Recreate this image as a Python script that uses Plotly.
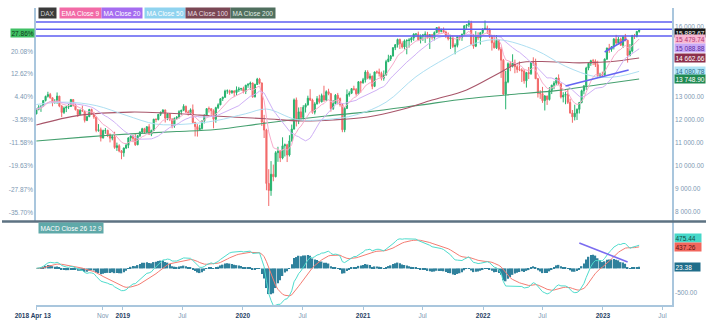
import pandas as pd
import plotly.graph_objects as go

# ---------------- data (weekly DAX candles) ----------------
week_start = "2018-04-13"
first_open = 12241
closes = [
    12442, 12540, 12580, 12820, 13001, 13077, 12938, 12724, 12767, 13011, 12580, 12306, 12496, 12540, 12561, 12860,
    12616, 12424, 12211, 12394, 12364, 11960, 12124, 12431, 12247, 12111, 11524, 11554, 11201, 11519, 11529, 11341,
    11192, 11257, 10788, 10866, 10634, 10559,
    10767, 10887, 11205, 11282, 11181, 10907, 11300, 11457, 11602, 11458, 11686, 11364, 11526, 12010, 11999, 12222,
    12315, 12412, 12060, 12238, 12011, 11727, 12045, 12096, 12340, 12399, 12569, 12323, 12260, 12419, 11872, 11694,
    11563, 11612, 11939, 12192, 12469, 12468, 12381, 12013, 12512, 12634, 12895, 12961, 13229, 13242, 13164, 13236,
    13167, 13283, 13319, 13337,
    13219, 13483, 13526, 13577, 12982, 13514, 13745, 13579, 11890, 11542, 9232, 8929, 9633, 9525, 10565, 10626,
    10336, 10861, 10905, 10465, 11074, 11587, 12848, 11949, 12331, 12089, 12528, 12633, 12920, 12838, 12313, 12675,
    12901, 12765, 13033, 12842, 13203, 13116, 12469, 12689, 13051, 12909, 12646, 11556, 12480, 13077, 13137, 13335,
    13298, 13114, 13631, 13587, 13719,
    14050, 13788, 13873, 13433, 14056, 14050, 13993, 13786, 13920, 14502, 14621, 14749, 15107, 15234, 15460, 15280,
    15136, 15400, 15417, 15438, 15520, 15693, 15693, 15448, 15608, 15650, 15688, 15540, 15669, 15544, 15761, 15977,
    15808, 15852, 15781, 15610, 15490, 15532, 15156, 15206, 15587, 15543, 15689, 16054, 16094, 16160, 15257, 15170,
    15623, 15532, 15756, 15885,
    15948, 15883, 15603, 15318, 15100, 15425, 15042, 14567, 13094, 13628, 14413, 14306, 14446, 14284, 14164, 14142,
    14098, 13674, 14028, 13982, 14462, 14460, 13762, 13126, 13118, 12813, 13016, 12864, 13254, 13484, 13573, 13795,
    13544, 12972, 13050, 13088, 12741, 12284, 12114, 12273, 12438, 12731, 13243, 13460, 14224, 14431, 14541, 14529,
    14370, 13894, 13941, 13924,
    14610, 15087, 15033, 15150, 15476, 15308, 15482, 15210, 15578, 15428, 14768, 14957, 15629, 15598, 15808, 15882.67,
]
highs = [
    12470, 12620, 12600, 12840, 13030, 13200, 13150, 12950, 12880, 13170, 13020, 12620, 12560, 12590, 12670, 12890,
    12880, 12680, 12440, 12450, 12600, 12380, 12170, 12460, 12470, 12330, 12120, 11800, 11650, 11560, 11630, 11560,
    11400, 11340, 11470, 11000, 10930, 10680,
    10790, 10980, 11230, 11320, 11330, 11370, 11320, 11490, 11640, 11640, 11710, 11800, 11560, 12030, 12050, 12240,
    12340, 12440, 12430, 12270, 12270, 12060, 12090, 12150, 12400, 12420, 12660, 12600, 12400, 12480, 12650, 11900,
    11800, 11770, 11960, 12220, 12490, 12560, 12480, 12440, 12550, 12700, 12920, 12990, 13290, 13300, 13290, 13270,
    13260, 13430, 13410, 13370,
    13420, 13500, 13560, 13640, 13600, 13550, 13800, 13800, 13600, 12200, 11600, 9850, 10200, 10050, 10630, 10820,
    10680, 11230, 10960, 10950, 11320, 11780, 12910, 12950, 12520, 12540, 12620, 12700, 13030, 13310, 12900, 12750,
    13010, 13070, 13120, 13460, 13260, 13330, 13150, 12840, 13100, 13150, 12950, 12700, 12540, 13300, 13220, 13350,
    13460, 13360, 13660, 13670, 13800,
    14130, 14130, 13990, 13900, 14070, 14120, 14200, 14070, 14120, 14580, 14800, 14790, 15120, 15260, 15500, 15500,
    15380, 15460, 15470, 15520, 15570, 15730, 15730, 15800, 15680, 15700, 15810, 15790, 15680, 15690, 15810, 15980,
    16030, 15930, 15980, 15840, 15760, 15660, 15640, 15290, 15620, 15650, 15710, 16070, 16110, 16290, 16270, 15700,
    15820, 15770, 15790, 15950,
    16280, 16060, 15950, 15660, 15660, 15650, 15450, 15140, 14620, 14100, 14470, 14520, 14820, 14590, 14350, 14510,
    14220, 14190, 14060, 14270, 14470, 14690, 14630, 13800, 13270, 13410, 13060, 13030, 13400, 13500, 13660, 13810,
    13950, 13560, 13180, 13200, 13320, 12900, 12410, 12640, 12480, 12760, 13290, 13470, 14280, 14450, 14580, 14620,
    14600, 14540, 14020, 14070,
    14640, 15110, 15270, 15170, 15520, 15660, 15570, 15540, 15590, 15700, 15450, 15260, 15660, 15700, 15830, 15920,
]
lows = [
    12230, 12400, 12330, 12560, 12780, 12950, 12900, 12570, 12690, 12680, 12530, 12100, 12240, 12320, 12450, 12540,
    12560, 12390, 12110, 12190, 12340, 11870, 11930, 12100, 12200, 12030, 11450, 11470, 11050, 11180, 11380, 11240,
    11010, 11100, 10730, 10640, 10580, 10280,
    10390, 10720, 10760, 11060, 11020, 10860, 10890, 11240, 11410, 11380, 11420, 11340, 11280, 11500, 11880, 11960,
    12150, 12260, 11870, 11970, 11930, 11620, 11640, 11990, 12040, 12210, 12360, 12280, 12170, 12200, 11830, 11270,
    11260, 11520, 11560, 11830, 12140, 12300, 12200, 11620, 11860, 12450, 12620, 12800, 12940, 13110, 13070, 13110,
    12970, 13050, 13190, 13240,
    13130, 13100, 13370, 13280, 12940, 12950, 13490, 13520, 11720, 11200, 8940, 8260, 8700, 9330, 9500, 10170,
    10160, 10280, 10400, 10160, 10400, 11050, 11560, 11700, 11800, 11960, 12000, 12300, 12600, 12800, 12250, 12220,
    12650, 12690, 12740, 12760, 12800, 13050, 12340, 12410, 12660, 12650, 12560, 11450, 11450, 12450, 12990, 13100,
    13250, 13030, 13080, 13160, 13550,
    13600, 13740, 13720, 13310, 13400, 13970, 13860, 13690, 13680, 13900, 14480, 14530, 14720, 15000, 15110, 15050,
    15070, 15030, 14820, 15110, 15330, 15400, 15560, 15430, 15290, 15400, 15310, 15500, 15050, 15450, 15420, 15730,
    15700, 15770, 15740, 15520, 15420, 15050, 15090, 14820, 15120, 15420, 15400, 15650, 15920, 15990, 15230, 15060,
    15130, 15430, 15240, 15700,
    15870, 15700, 15530, 14980, 15070, 15050, 14980, 13800, 13060, 12440, 13570, 14090, 14250, 14000, 14020, 14090,
    13620, 13550, 13380, 13750, 13930, 14320, 13750, 12950, 12890, 12720, 12390, 12630, 12820, 13100, 13310, 13490,
    13500, 12910, 12740, 12660, 12670, 12250, 11860, 11960, 11980, 12260, 12700, 13090, 13280, 14130, 14320, 14350,
    14270, 13800, 13790, 13880,
    13900, 14580, 14880, 14930, 15030, 15250, 15240, 15180, 15090, 15380, 14460, 14730, 14900, 15480, 15550, 15750,
]

# slower moving averages at a few dates
ma50_dates = ["2018-04-13", "2018-07-13", "2018-10-12", "2019-01-11", "2019-04-12", "2019-07-12", "2019-10-11",
              "2020-01-10", "2020-03-13", "2020-06-12", "2020-09-11", "2020-12-11", "2021-03-12", "2021-06-11",
              "2021-09-10", "2021-12-10", "2022-02-18", "2022-06-10", "2022-09-09", "2022-12-09", "2023-02-10",
              "2023-04-21"]
ma50_vals = [12650, 12750, 12600, 12180, 11800, 11800, 11950, 12250, 12450, 12000, 12000, 12200, 12750, 13850,
             14650, 15300, 15450, 15000, 14300, 13850, 13850, 14080.78]
ma100_dates = ["2018-04-13", "2018-08-24", "2019-01-25", "2019-05-10", "2019-08-23", "2019-12-13", "2020-03-13",
               "2020-06-26", "2020-10-02", "2021-01-15", "2021-04-23", "2021-07-30", "2021-11-12", "2022-02-18",
               "2022-04-22", "2022-07-22", "2022-10-21", "2023-01-20", "2023-04-21"]
ma100_vals = [11760, 12190, 12320, 12280, 12190, 12100, 12030, 11940, 11980, 12110, 12410, 12840, 13280, 14000,
              14450, 14500, 14450, 14500, 14662.66]
ma200_dates = ["2018-04-13", "2018-09-14", "2019-01-25", "2019-06-14", "2019-10-11", "2020-03-13", "2020-09-11",
               "2021-01-15", "2021-06-11", "2021-11-12", "2022-03-11", "2022-08-12", "2023-01-13", "2023-04-21"]
ma200_vals = [11070, 11250, 11380, 11480, 11570, 11850, 12150, 12330, 12600, 12900, 13060, 13250, 13560, 13748.90]

# drawings
level_lines = [16216, 15900, 15611]
trend1_dates = ["2022-09-09", "2023-03-20"]
trend1_vals = [13449, 14141]
trend2_dates = ["2023-01-06", "2023-03-14"]
trend2_vals = [14919, 15481]
macd_trend_dates = ["2022-10-21", "2023-03-17"]
macd_trend_vals = [516, 130]

# axes labels
price_ticks = [8000, 9000, 10000, 11000, 12000, 13000, 16000]
pct_ticks = [20.08, 12.62, 4.40, -3.58, -11.58, -19.63, -27.87, -35.70]
pct_base = 12420
last_pct = "27.86%"
x_tick_dates = ["2018-04-13", "2018-11-01", "2019-01-01", "2019-07-01", "2020-01-01", "2020-07-01",
                "2021-01-01", "2021-07-01", "2022-01-01", "2022-07-01", "2023-01-01", "2023-07-01"]
x_tick_names = ["2018 Apr 13", "Nov", "2019", "Jul", "2020", "Jul", "2021", "Jul", "2022", "Jul", "2023", "Jul"]

price_badge_vals = [15882.67, 15479.74, 15088.88, 14662.66, 14080.78, 13748.90]
price_badge_bg = ["#161616", "#f7b8d3", "#c9a9f6", "#8c2f4c", "#aee3f6", "#1f8a52"]
price_badge_fg = ["#ffffff", "#b03070", "#5a2aa0", "#ffffff", "#2a6f8a", "#ffffff"]
price_badge_shift = [-3, 0, 0, 0, 0, 0]
macd_badge_vals = [475.44, 437.26, 23.38]
macd_badge_bg = ["#46d8c9", "#f2665d", "#1f6d8a"]
macd_badge_fg = ["#134a46", "#5a1410", "#ffffff"]
macd_badge_shift = [7, 0, 0]

legend_names = ["DAX", "EMA Close 9", "MA Close 20", "MA Close 50", "MA Close 100", "MA Close 200"]
legend_bg = ["#3a3a3a", "#f26aa6", "#a56cf0", "#8fd3ef", "#7a4754", "#4f6f5e"]
legend_fg = ["#d0d0d0", "#ffffff", "#ffffff", "#ffffff", "#e8dde0", "#e0ece4"]
legend_px = [38, 59, 101, 144, 185, 230]

assert len(closes) == len(highs) == len(lows)

# ---------------- derived series ----------------
dates = pd.date_range(week_start, periods=len(closes), freq="W-FRI")
opens = [first_open] + closes[:-1]
cs = pd.Series(closes, dtype=float)
ema9 = cs.ewm(span=9, adjust=False).mean()
ma20 = cs.rolling(20, min_periods=1).mean()
macd = cs.ewm(span=12, adjust=False).mean() - cs.ewm(span=26, adjust=False).mean()
signal = macd.ewm(span=9, adjust=False).mean()
hist = macd - signal

# ---------------- pixel geometry ----------------
W, H = 715, 332
L, R, T, B = 36, 672, 8, 305
def px_x(px):
    return (px - L) / (R - L)
def px_y(py):
    return (B - py) / (B - T)

k_price = (212 - 27) / 8000.0
price_range = [8000 - (221 - 212) / k_price, 16000 + (27 - T) / k_price]
k_macd = (293 - 245) / 975.0
macd_zero = 245 + 475 * k_macd
macd_range = [-(B - macd_zero) / k_macd, (macd_zero - 222) / k_macd]

FONT = "Liberation Sans, Arial, sans-serif"
AXIS = "#a9c6dd"
LAB = "#7d98b3"

fig = go.Figure()

fig.add_trace(go.Scatter(x=ma200_dates, y=ma200_vals, mode="lines", line=dict(color="#45a06f", width=1.1, shape="spline"), yaxis="y"))
fig.add_trace(go.Scatter(x=ma100_dates, y=ma100_vals, mode="lines", line=dict(color="#a8566a", width=1.1, shape="spline"), yaxis="y"))
fig.add_trace(go.Scatter(x=ma50_dates, y=ma50_vals, mode="lines", line=dict(color="#addff2", width=1, shape="spline"), yaxis="y"))
fig.add_trace(go.Scatter(x=dates, y=ma20, mode="lines", line=dict(color="#cfb0f6", width=1), yaxis="y"))
fig.add_trace(go.Scatter(x=dates, y=ema9, mode="lines", line=dict(color="#f7abcb", width=1), yaxis="y"))

fig.add_trace(go.Candlestick(
    x=dates, open=opens, high=highs, low=lows, close=closes, yaxis="y",
    increasing=dict(line=dict(color="#27b36e", width=1), fillcolor="#27b36e"),
    decreasing=dict(line=dict(color="#f26a6a", width=1), fillcolor="#f26a6a"),
    whiskerwidth=0, hoverinfo="skip"))

for d, v in [(trend1_dates, trend1_vals), (trend2_dates, trend2_vals)]:
    fig.add_trace(go.Scatter(x=d, y=v, mode="lines", line=dict(color="#6464f2", width=1.6), yaxis="y"))

# dummy for left percent axis
fig.add_trace(go.Scatter(x=[dates[0]], y=[None], yaxis="y2", mode="markers", hoverinfo="skip"))

# MACD pane
fig.add_trace(go.Bar(x=dates, y=hist, yaxis="y3", marker=dict(color="#2f819c", line=dict(width=0))))
fig.add_trace(go.Scatter(x=dates, y=signal, mode="lines", line=dict(color="#f47c72", width=1), yaxis="y3"))
fig.add_trace(go.Scatter(x=dates, y=macd, mode="lines", line=dict(color="#4fdccd", width=1), yaxis="y3"))
fig.add_trace(go.Scatter(x=macd_trend_dates, y=macd_trend_vals, mode="lines", line=dict(color="#7b6cf0", width=1.6), yaxis="y3"))

shapes = []
for v in level_lines:
    shapes.append(dict(type="line", xref="paper", yref="y", x0=0, x1=1, y0=v, y1=v,
                       line=dict(color="#5e5ef2", width=1.6)))
shapes.append(dict(type="line", xref="paper", yref="paper", x0=px_x(2), x1=px_x(706),
                   y0=px_y(221.5), y1=px_y(221.5), line=dict(color="#5d7282", width=2.5)))

ann = []
for name, bg, fg, px in zip(legend_names, legend_bg, legend_fg, legend_px):
    ann.append(dict(text=name, xref="paper", yref="paper", x=px_x(px), y=px_y(13), xanchor="left",
                    yanchor="middle", showarrow=False, bgcolor=bg, borderpad=1.5,
                    font=dict(family=FONT, size=6.5, color=fg)))
ann.append(dict(text="MACD Close 26 12 9", xref="paper", yref="paper", x=px_x(38), y=px_y(228),
                xanchor="left", yanchor="middle", showarrow=False, bgcolor="#5fa9a9", borderpad=1.5,
                font=dict(family=FONT, size=6.5, color="#ffffff")))
for v, bg, fg, sh in zip(price_badge_vals, price_badge_bg, price_badge_fg, price_badge_shift):
    ann.append(dict(text=f"{v:,.2f}".replace(",", " "), xref="paper", yref="y", x=1, y=v, xshift=2,
                    yshift=sh, xanchor="left", yanchor="middle", showarrow=False, bgcolor=bg, borderpad=0.5,
                    font=dict(family=FONT, size=6.5, color=fg)))
ann.append(dict(text=last_pct, xref="paper", yref="y", x=0, y=price_badge_vals[0], xshift=-1, yshift=-3,
                xanchor="right", yanchor="middle", showarrow=False, bgcolor="#3fc064", borderpad=0.5,
                font=dict(family=FONT, size=6.5, color="#10381a")))
for v, bg, fg, sh in zip(macd_badge_vals, macd_badge_bg, macd_badge_fg, macd_badge_shift):
    ann.append(dict(text=f"{v:.2f}".ljust(9), xref="paper", yref="y3", x=1, y=v, xshift=2, yshift=sh,
                    xanchor="left", yanchor="middle", showarrow=False, bgcolor=bg, borderpad=0.5,
                    font=dict(family=FONT, size=6.5, color=fg)))

def xlab(name):
    if name[0].isdigit():
        return f"<b><span style='color:#1f3e63'>{name}</span></b>"
    return f"<span style='color:{LAB}'>{name}</span>"
x_tick_text = [xlab(n) for n in x_tick_names]
x_tick_text[0] = x_tick_text[0] + "&nbsp;" * 4

fig.update_layout(
    width=W, height=H, margin=dict(l=L, r=W - R, t=T, b=H - B),
    paper_bgcolor="white", plot_bgcolor="white", showlegend=False, bargap=0.35,
    font=dict(family=FONT, size=6.5, color=LAB),
    xaxis=dict(type="date", range=["2018-04-11 20:00", "2023-07-30"], anchor="y3", domain=[0, 1],
               showgrid=False, zeroline=False, showline=True, linecolor=AXIS, linewidth=1.5,
               ticks="outside", ticklen=3, tickcolor=AXIS, tickvals=x_tick_dates, ticktext=x_tick_text,
               tickfont=dict(family=FONT, size=6.5), tickangle=0, rangeslider=dict(visible=False)),
    yaxis=dict(domain=[px_y(221), 1], side="right", anchor="x", range=price_range, showgrid=False,
               zeroline=False, showline=True, linecolor=AXIS, linewidth=1.5, ticks="",
               tickvals=price_ticks, ticktext=[f"{v:,.2f}".replace(",", " ") for v in price_ticks],
               tickfont=dict(family=FONT, size=6.5, color=LAB)),
    yaxis2=dict(overlaying="y", side="left", anchor="x", range=price_range, showgrid=False, zeroline=False,
                showline=True, linecolor=AXIS, linewidth=1.5, ticks="",
                tickvals=[pct_base * (1 + p / 100) for p in pct_ticks],
                ticktext=[f"{p:.2f}%" for p in pct_ticks],
                tickfont=dict(family=FONT, size=6.5, color=LAB)),
    yaxis3=dict(domain=[0, px_y(222)], side="right", anchor="x", range=macd_range, showgrid=False,
                zeroline=False, showline=True, linecolor=AXIS, linewidth=1.5, ticks="",
                tickvals=[-500], ticktext=["-500.00"], tickfont=dict(family=FONT, size=6.5, color=LAB)),
    shapes=shapes, annotations=ann,
)

fig.write_html("out.html")
